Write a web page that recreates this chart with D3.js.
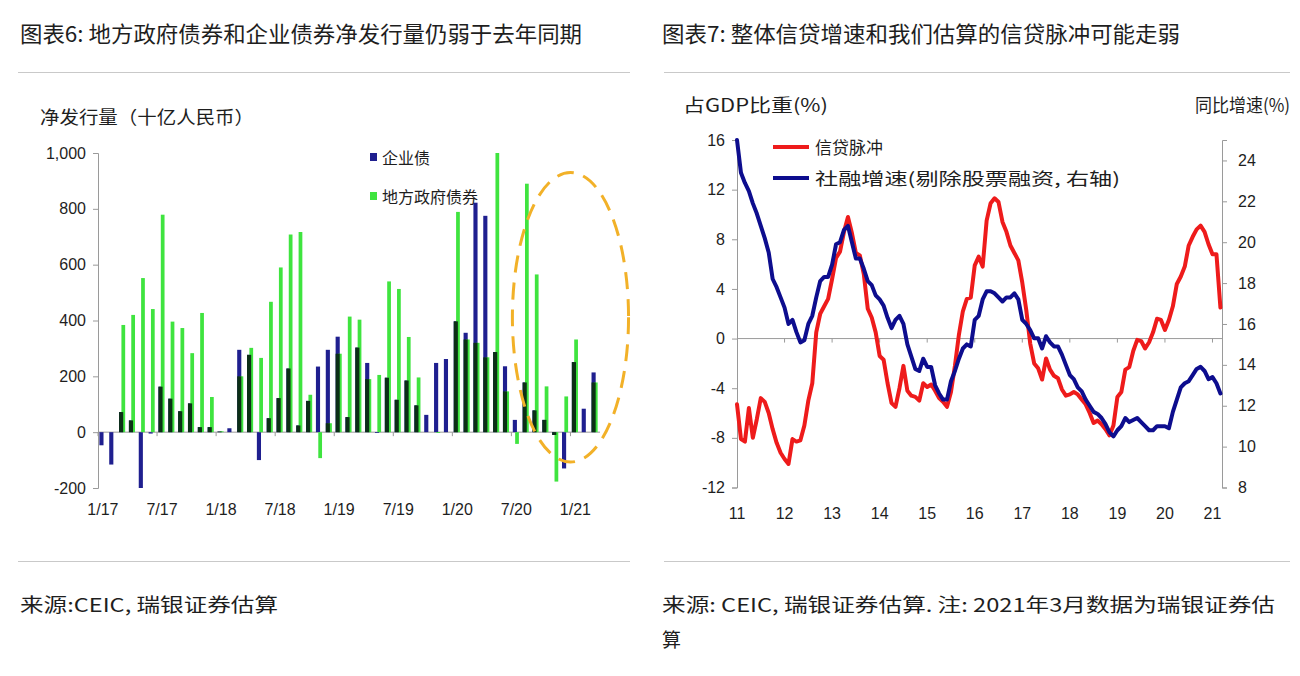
<!DOCTYPE html>
<html><head><meta charset="utf-8">
<script src="https://cdn.jsdelivr.net/npm/d3@7/dist/d3.min.js"></script>
<style>
body{margin:0;background:#fff;}
svg{display:block;}
text{font-family:"Liberation Sans","Noto Sans CJK SC",sans-serif;fill:#1e1e1e;}
.cjk{font-family:"Noto Sans CJK SC","Liberation Sans",sans-serif;}
</style>
</head><body>
<svg id="c" width="1300" height="676"></svg>
<script>
// ---------- Chart 6 data (net issuance, RMB bn), Jan 2017 - Mar 2021 ----------
const corpBond = [-47,-116,72,42,-200,-5,163,120,75,103,18,18,
  2,14,295,277,-100,50,122,228,24,112,235,295,
  342,54,303,248,-3,195,116,185,96,62,248,262,
  397,356,822,775,287,236,44,178,78,44,-10,-130,
  251,84,214];
const localGovBond = [0,0,384,420,552,441,779,396,373,283,427,126,
  3,0,200,302,266,467,590,708,717,134,-93,32,
  281,414,403,190,205,540,513,341,196,0,-3,0,
  789,332,320,268,1000,146,-42,890,565,164,-177,128,
  332,0,178];
const barTickLabels = ["1/17","7/17","1/18","7/18","1/19","7/19","1/20","7/20","1/21"];
const barYTicks = [-200,0,200,400,600,800,1000];

// ---------- Chart 7 data, monthly Jan 2011 - Mar 2021 ----------
const creditImpulse = [-5.3,-8.1,-8.3,-5.6,-8.0,-6.5,-4.8,-5.1,-6.0,-7.3,-8.4,-9.2,
  -9.7,-10.1,-8.1,-8.3,-8.2,-7.0,-5.0,-3.6,0.5,2.0,2.6,3.2,
  4.8,6.5,7.0,8.6,9.8,8.5,6.9,6.7,5.2,2.4,1.7,0.5,
  -1.4,-1.7,-3.6,-5.2,-5.5,-4.0,-2.2,-4.2,-4.6,-4.7,-5.0,-3.6,
  -3.9,-3.7,-4.2,-4.8,-5.1,-5.5,-4.3,-2.2,0.3,2.2,3.2,3.3,
  5.9,6.6,5.8,9.5,10.9,11.3,11.0,9.4,8.6,7.5,6.9,6.3,
  4.5,2.3,-0.4,-2.0,-2.4,-3.3,-1.6,-2.5,-3.0,-3.2,-4.1,-4.6,
  -4.5,-4.3,-4.5,-4.9,-5.3,-6.0,-6.8,-6.6,-6.9,-7.3,-7.8,-7.0,
  -4.7,-4.3,-2.5,-2.3,-1.0,-0.1,-0.2,-0.8,-0.3,0.5,1.6,1.5,
  0.7,1.5,2.6,4.4,5.0,5.8,7.5,8.2,8.8,9.1,8.6,7.6,
  6.8,6.8,2.5];
const tsfGrowth = [25.0,23.4,22.9,22.5,21.9,21.4,20.8,20.2,19.5,18.2,17.8,17.3,
  16.8,16.0,16.2,15.6,15.1,15.2,16.0,16.4,17.3,18.1,18.3,18.3,
  18.9,19.9,20.0,20.6,20.8,20.0,19.2,19.2,18.7,18.1,17.9,17.4,
  17.2,16.9,16.3,15.8,16.2,16.4,16.0,15.0,14.4,13.8,13.7,14.3,
  13.9,13.9,13.0,12.6,12.3,12.3,13.2,13.7,14.3,14.8,15.0,14.9,
  16.2,16.4,17.2,17.6,17.6,17.5,17.3,17.1,17.3,17.3,17.5,17.2,
  16.2,16.0,15.7,15.3,15.3,14.8,15.4,15.1,14.9,14.9,14.5,14.0,
  13.5,13.3,12.9,12.7,12.3,12.0,11.7,11.6,11.4,11.1,10.7,10.5,
  10.8,11.0,11.4,11.2,11.3,11.4,11.2,11.0,10.8,10.8,11.0,11.0,
  11.0,10.9,11.7,12.3,12.9,13.1,13.2,13.5,13.8,13.9,13.7,13.3,
  13.4,13.1,12.6];
const yearLabels = ["11","12","13","14","15","16","17","18","19","20","21"];
const leftTicks = [-12,-8,-4,0,4,8,12,16];
const rightTicks = [8,10,12,14,16,18,20,22,24];

const svg = d3.select("#c");
const GRID = "#c9c9c9", AXIS = "#9a9a9a";
const hyph = f => d => (d < 0 ? "-" : "") + f(Math.abs(d));

// ---------- frame texts ----------
function txt(x,y,s,size,opts={}){
  const t = svg.append("text").attr("x",x).attr("y",y).text(s)
    .attr("font-size",size).attr("class","cjk");
  if(opts.anchor) t.attr("text-anchor",opts.anchor);
  if(opts.len) t.attr("textLength",opts.len).attr("lengthAdjust","spacingAndGlyphs");
  return t;
}
txt(20,42,"图表6: 地方政府债券和企业债券净发行量仍弱于去年同期",22,{len:562});
txt(662,42,"图表7: 整体信贷增速和我们估算的信贷脉冲可能走弱",22,{len:518});
[[18,630],[664,1290]].forEach(([a,b])=>{
  svg.append("line").attr("x1",a).attr("x2",b).attr("y1",72.5).attr("y2",72.5).attr("stroke",GRID);
  svg.append("line").attr("x1",a).attr("x2",b).attr("y1",561.5).attr("y2",561.5).attr("stroke",GRID);
});
txt(20,612,"来源:CEIC, 瑞银证券估算",19,{len:258});
txt(662,612,"来源: CEIC, 瑞银证券估算. 注: 2021年3月数据为瑞银证券估",19,{len:613});
txt(662,647,"算",19);

// ---------- Chart 6: bars ----------
const months = d3.range(corpBond.length).map(i=>`${i%12+1}/${17+Math.floor(i/12)}`);
const xb = d3.scaleBand().domain(months).range([98,600]).padding(0);
const yb = d3.scaleLinear().domain([-200,1000]).range([488,153]);
const bw = xb.bandwidth();

txt(40,124,"净发行量（十亿人民币）",18,{len:214});

const gyb = svg.append("g").attr("transform","translate(98,0)")
  .call(d3.axisLeft(yb).tickValues(barYTicks).tickSize(5).tickFormat(hyph(d3.format(","))));
gyb.select(".domain").attr("stroke",AXIS);
gyb.selectAll(".tick line").attr("stroke",AXIS);
gyb.selectAll(".tick text").attr("font-size",16).attr("x",-12)
  .style("font-family","Liberation Sans").attr("fill","#1e1e1e");

svg.append("line").attr("x1",98).attr("x2",600).attr("y1",yb(0)).attr("y2",yb(0)).attr("stroke",AXIS);
const barBlue = "#1f1f8f", barGreen = "#3fe43f", barDark = "#0c2f16";
const gbars = svg.append("g");
const bx0 = 0.14, bx1 = 0.56, gx0 = 0.38, gx1 = 0.76;
gbars.selectAll("rect.cb").data(corpBond).join("rect").attr("class","cb")
  .attr("x",(d,i)=>xb(months[i])+bw*bx0).attr("width",bw*(bx1-bx0))
  .attr("y",d=>yb(Math.max(0,d))).attr("height",d=>Math.abs(yb(d)-yb(0)))
  .attr("fill",barBlue);
gbars.selectAll("rect.lg").data(localGovBond).join("rect").attr("class","lg")
  .attr("x",(d,i)=>xb(months[i])+bw*gx0).attr("width",bw*(gx1-gx0))
  .attr("y",d=>yb(Math.max(0,d))).attr("height",d=>Math.abs(yb(d)-yb(0)))
  .attr("fill",barGreen);
// where both series stack on the same side, the overlapping part renders dark
const overlap = corpBond.map((b,i)=>{
  const g = localGovBond[i];
  if (b*g <= 0) return 0;
  return Math.sign(b)*Math.min(Math.abs(b),Math.abs(g));
});
gbars.selectAll("rect.ov").data(overlap).join("rect").attr("class","ov")
  .attr("x",(d,i)=>xb(months[i])+bw*bx0).attr("width",bw*(bx1-bx0))
  .attr("y",d=>yb(Math.max(0,d))).attr("height",d=>Math.abs(yb(d)-yb(0)))
  .attr("fill",barDark);

barTickLabels.forEach(l=>{
  svg.append("line").attr("x1",xb(l)).attr("x2",xb(l)).attr("y1",yb(0)).attr("y2",yb(0)+4).attr("stroke",AXIS);
  svg.append("text").attr("x",xb(l)+bw/2).attr("y",515).attr("text-anchor","middle")
    .attr("font-size",16).style("font-family","Liberation Sans").text(l);
});

svg.append("rect").attr("x",370).attr("y",153).attr("width",7).attr("height",8).attr("fill",barBlue);
txt(382,164,"企业债",16);
svg.append("rect").attr("x",370).attr("y",192).attr("width",7).attr("height",8).attr("fill",barGreen);
txt(382,203,"地方政府债券",16);

const eTop = yb(930), eBot = yb(-107);
svg.append("ellipse").attr("cx",xb("1/21")).attr("cy",(eTop+eBot)/2)
  .attr("rx",bw*5.9).attr("ry",(eBot-eTop)/2)
  .attr("fill","none").attr("stroke","#f2b128").attr("stroke-width",3)
  .attr("stroke-dasharray","17 10");

// ---------- Chart 7: lines ----------
const xl = d3.scaleLinear().domain([0,122.4]).range([737,1222]);
const yL = d3.scaleLinear().domain([-12,16]).range([487.5,140]);
const yR = d3.scaleLinear().domain([8,25]).range([487.5,140]);

txt(683,112,"占GDP比重(%)",18,{len:145});
txt(1290,112,"同比增速(%)",18,{anchor:"end",len:95});

const gl = svg.append("g").attr("transform","translate(737,0)")
  .call(d3.axisLeft(yL).tickValues(leftTicks).tickSize(5).tickFormat(hyph(d3.format("d"))));
gl.select(".domain").attr("stroke",AXIS);
gl.selectAll(".tick line").attr("stroke",AXIS);
gl.selectAll(".tick text").attr("font-size",16).attr("x",-12)
  .style("font-family","Liberation Sans").attr("fill","#1e1e1e");

const gr = svg.append("g").attr("transform","translate(1222,0)")
  .call(d3.axisRight(yR).tickValues(rightTicks).tickSize(5));
gr.select(".domain").attr("stroke",AXIS);
gr.selectAll(".tick line").attr("stroke",AXIS);
gr.selectAll(".tick text").attr("font-size",16).attr("x",16)
  .style("font-family","Liberation Sans").attr("fill","#1e1e1e");

svg.append("line").attr("x1",737).attr("x2",1222).attr("y1",yL(0)).attr("y2",yL(0)).attr("stroke",AXIS);
yearLabels.forEach((l,k)=>{
  const xx = xl(k*12);
  if(k>0) svg.append("line").attr("x1",xx).attr("x2",xx).attr("y1",yL(0)).attr("y2",yL(0)+4).attr("stroke",AXIS);
  svg.append("text").attr("x",xx).attr("y",519).attr("text-anchor","middle")
    .attr("font-size",16).style("font-family","Liberation Sans").text(l);
});

const RED = "#ee1b1b", NAVY = "#0d0d8e";
svg.append("path").datum(creditImpulse)
  .attr("d",d3.line().x((d,i)=>xl(i)).y(d=>yL(d)))
  .attr("fill","none").attr("stroke",RED).attr("stroke-width",4)
  .attr("stroke-linejoin","round").attr("stroke-linecap","round");
svg.append("path").datum(tsfGrowth)
  .attr("d",d3.line().x((d,i)=>xl(i)).y(d=>yR(d)))
  .attr("fill","none").attr("stroke",NAVY).attr("stroke-width",4)
  .attr("stroke-linejoin","round").attr("stroke-linecap","round");

svg.append("line").attr("x1",773).attr("x2",809).attr("y1",147).attr("y2",147).attr("stroke",RED).attr("stroke-width",4);
txt(815,154,"信贷脉冲",17);
svg.append("line").attr("x1",773).attr("x2",809).attr("y1",178).attr("y2",178).attr("stroke",NAVY).attr("stroke-width",4);
txt(815,185,"社融增速(剔除股票融资, 右轴)",17,{len:305});
</script>
</body></html>
